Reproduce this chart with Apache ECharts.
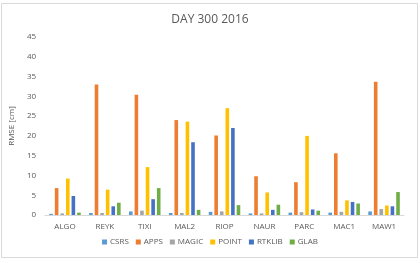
<!DOCTYPE html>
<html>
<head>
<meta charset="utf-8">
<script src="https://cdn.jsdelivr.net/npm/echarts@6/dist/echarts.min.js"></script>
<style>
  html, body { margin: 0; padding: 0; background: #fff; }
  #chart { width: 420px; height: 263px; }
</style>
</head>
<body>
<div id="chart"></div>
<script>
// stations
var stations = ['ALGO', 'REYK', 'TIXI', 'MAL2', 'RIOP', 'NAUR', 'PARC', 'MAC1', 'MAW1'];
// RMSE [cm] per software
var csrs   = [0.3, 0.5, 0.9, 0.5, 0.8, 0.4, 0.6, 0.6, 0.9];
var apps   = [6.8, 33.0, 30.4, 24.0, 20.1, 9.8, 8.3, 15.6, 33.7];
var magic  = [0.4, 0.5, 1.1, 0.5, 0.9, 0.4, 0.7, 0.8, 1.5];
var point  = [9.2, 6.4, 12.1, 23.6, 27.0, 5.7, 20.0, 3.7, 2.4];
var rtklib = [4.8, 2.2, 4.0, 18.4, 22.0, 1.3, 1.4, 3.3, 2.2];
var glab   = [0.6, 3.1, 6.8, 1.3, 2.5, 2.6, 1.1, 2.9, 5.8];

var names = ['CSRS', 'APPS', 'MAGIC', 'POINT', 'RTKLIB', 'GLAB'];
var colors = ['#5B9BD5', '#ED7D31', '#A5A5A5', '#FFC000', '#4472C4', '#70AD47'];
var values = [csrs, apps, magic, point, rtklib, glab];

var series = names.map(function (n, i) {
    return {
        name: n,
        type: 'bar',
        barWidth: 3.6,
        barGap: '55%',
        itemStyle: {color: colors[i]},
        data: values[i]
    };
});

var option = {
    backgroundColor: '#fff',
    animation: false,
    color: colors,
    title: {
        text: 'DAY 300 2016',
        left: 'center',
        top: 9,
        textStyle: {fontFamily: 'Open Sans', fontSize: 12, fontWeight: 'normal', color: '#595959'}
    },
    legend: {
        data: names,
        bottom: 12,
        left: 'center',
        itemWidth: 5,
        itemHeight: 5,
        itemGap: 7,
        icon: 'rect',
        textStyle: {fontFamily: 'Open Sans', fontSize: 8, color: '#595959', padding: [0, 0, 0, -2]}
    },
    grid: {
        left: 44,
        right: 16,
        top: 37,
        bottom: 48,
        containLabel: false
    },
    xAxis: {
        type: 'category',
        data: stations,
        axisLine: {lineStyle: {color: '#D9D9D9'}},
        axisTick: {show: false},
        axisLabel: {fontFamily: 'Open Sans', fontSize: 8, color: '#595959', margin: 8}
    },
    yAxis: {
        type: 'value',
        min: 0,
        max: 45,
        interval: 5,
        name: 'RMSE [cm]',
        nameLocation: 'middle',
        nameGap: 22,
        nameTextStyle: {fontFamily: 'Open Sans', fontSize: 8, color: '#595959'},
        axisLine: {show: false},
        axisTick: {show: false},
        splitLine: {show: false},
        axisLabel: {fontFamily: 'Open Sans', fontSize: 8, color: '#595959', margin: 9}
    },
    graphic: [{
        type: 'rect',
        shape: {x: 1.5, y: 3.5, width: 416, height: 254},
        style: {fill: 'none', stroke: '#D9D9D9', lineWidth: 1},
        silent: true
    }],
    series: series
};

echarts.init(document.getElementById('chart')).setOption(option);
</script>
</body>
</html>
